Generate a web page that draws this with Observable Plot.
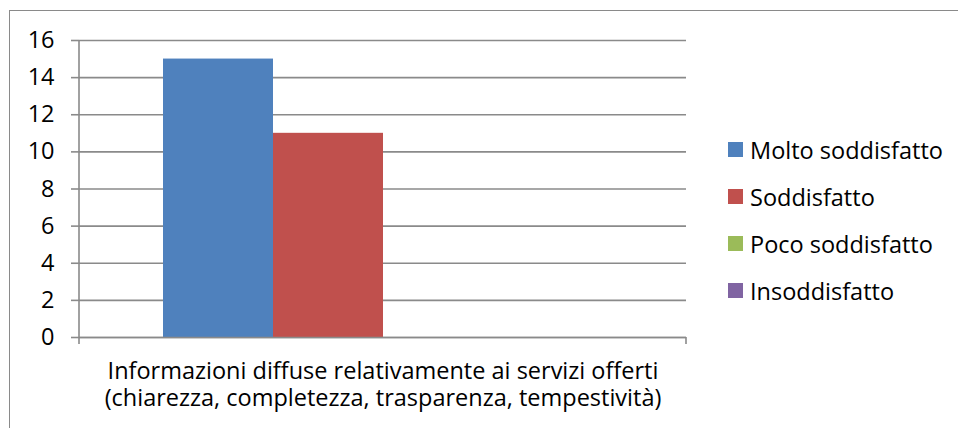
<!DOCTYPE html>
<html>
<head>
<meta charset="utf-8">
<script src="https://cdn.jsdelivr.net/npm/d3@7"></script>
<script src="https://cdn.jsdelivr.net/npm/@observablehq/plot@0.6"></script>
<style>
  html, body { margin: 0; padding: 0; background: #fff; }
  #wrap { position: relative; width: 958px; height: 428px; overflow: hidden; font-family: "Open Sans", Lato, sans-serif; }
  #border { position: absolute; left: 9px; top: 10px; width: 1000px; height: 1000px; border-left: 1.6px solid #8a8a8a; border-top: 1.6px solid #8a8a8a; }
  #chart { position: absolute; left: 0; top: 0; }
  #legend { position: absolute; left: 728px; top: 126px; }
  .row { display: flex; align-items: center; height: 47px; font-size: 23.5px; color: #000; white-space: nowrap; }
  .sw { width: 15px; height: 15px; margin-right: 7px; flex: none; }
</style>
</head>
<body>
<div id="wrap">
  <div id="border"></div>
  <div id="chart"></div>
  <div id="legend"></div>
</div>
<script>
const category = "Informazioni diffuse relativamente ai servizi offerti\n(chiarezza, completezza, trasparenza, tempestività)";
const series = ["Molto soddisfatto", "Soddisfatto", "Poco soddisfatto", "Insoddisfatto"];
const values = [15, 11, 0, 0];
const colors = ["#4F81BD", "#C0504D", "#9BBB59", "#8064A2"];
const yTicks = [0, 2, 4, 6, 8, 10, 12, 14, 16];

const data = series.map((s, i) => ({category, series: s, value: values[i]}));

const gridColor = "#8a8a8a";

const boundaryTicks = (index, scales, values, dim) => {
  const g = d3.create("svg:g").attr("stroke", gridColor).attr("stroke-width", 1.6);
  const x0 = dim.marginLeft, x1 = dim.width - dim.marginRight;
  const yb = dim.height - dim.marginBottom;
  g.append("line").attr("x1", x0).attr("x2", x0).attr("y1", dim.marginTop).attr("y2", yb + 7);
  g.append("line").attr("x1", x1).attr("x2", x1).attr("y1", yb).attr("y2", yb + 7);
  return g.node();
};

const plot = Plot.plot({
  width: 958,
  height: 428,
  marginLeft: 79,
  marginRight: 272,
  marginTop: 40,
  marginBottom: 91,
  style: {fontFamily: "'Open Sans', Lato, sans-serif", fontSize: "23.5px", color: "#000", background: "transparent"},
  x: {domain: series, paddingInner: 0, paddingOuter: 0.75, axis: null},
  y: {domain: [0, 16]},
  color: {domain: series, range: colors},
  marks: [
    Plot.gridY(yTicks, {stroke: gridColor, strokeOpacity: 1, strokeWidth: 1.6}),
    Plot.axisY(yTicks, {tickSize: 8, tickPadding: 17, stroke: gridColor, strokeWidth: 1.6, strokeOpacity: 1, fill: "#000", fontSize: 23.5, label: null}),
    Plot.barY(data, {x: "series", y: "value", fill: "series"}),
    Plot.ruleY([0], {stroke: gridColor, strokeWidth: 1.6}),
    boundaryTicks,
    Plot.text([category], {frameAnchor: "bottom", dy: 22, lineAnchor: "top", lineHeight: 1.15, fill: "#000", fontSize: 23.5})
  ]
});
document.getElementById("chart").appendChild(plot);

const color = plot.scale("color");
const legend = document.getElementById("legend");
series.forEach((s, i) => {
  const row = document.createElement("div");
  row.className = "row";
  const sw = document.createElement("div");
  sw.className = "sw";
  sw.style.background = color.apply(s);
  const t = document.createElement("span");
  t.textContent = s;
  row.appendChild(sw);
  row.appendChild(t);
  legend.appendChild(row);
});
</script>
</body>
</html>
